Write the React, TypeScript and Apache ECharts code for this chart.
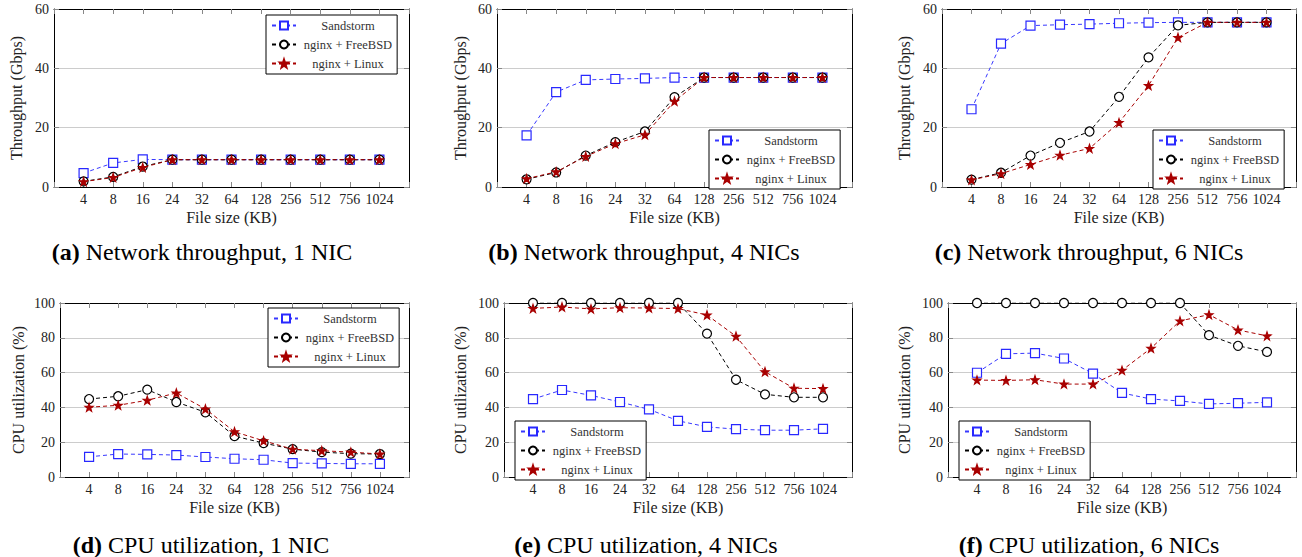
import React, { useEffect, useRef } from 'react';
import * as echarts from 'echarts';

const categories = ['4', '8', '16', '24', '32', '64', '128', '256', '512', '756', '1024'];
const seriesNames = ['Sandstorm', 'nginx + FreeBSD', 'nginx + Linux'];

// (a) Network throughput, 1 NIC
const tput1Sandstorm = [4.7, 8.1, 9.3, 9.2, 9.2, 9.2, 9.2, 9.2, 9.2, 9.2, 9.2];
const tput1FreeBSD = [1.9, 3.4, 6.9, 9.2, 9.2, 9.2, 9.2, 9.2, 9.2, 9.2, 9.2];
const tput1Linux = [1.8, 3.2, 6.6, 9.2, 9.2, 9.2, 9.2, 9.2, 9.2, 9.2, 9.2];
// (b) Network throughput, 4 NICs
const tput4Sandstorm = [17.4, 32.0, 36.1, 36.4, 36.6, 36.9, 36.9, 36.9, 36.9, 36.9, 36.9];
const tput4FreeBSD = [2.6, 4.9, 10.6, 15.1, 18.7, 30.3, 36.9, 36.9, 36.9, 36.9, 36.9];
const tput4Linux = [2.8, 5.1, 10.3, 14.6, 17.6, 28.9, 36.9, 36.9, 36.9, 36.9, 36.9];
// (c) Network throughput, 6 NICs
const tput6Sandstorm = [26.2, 48.3, 54.4, 54.7, 54.9, 55.2, 55.4, 55.5, 55.5, 55.5, 55.5];
const tput6FreeBSD = [2.5, 4.8, 10.6, 14.9, 18.7, 30.4, 43.7, 54.5, 55.5, 55.5, 55.5];
const tput6Linux = [2.4, 4.5, 7.6, 10.7, 13.0, 21.7, 34.2, 50.4, 55.5, 55.5, 55.5];
// (d) CPU utilization, 1 NIC
const cpu1Sandstorm = [11.6, 13.2, 13.0, 12.6, 11.5, 10.5, 9.9, 8.0, 7.8, 7.6, 7.6];
const cpu1FreeBSD = [44.8, 46.4, 50.2, 43.1, 37.2, 23.5, 19.5, 16.0, 14.3, 13.4, 13.2];
const cpu1Linux = [40.1, 41.2, 44.1, 48.3, 39.1, 26.0, 20.8, 16.0, 15.1, 14.3, 13.2];
// (e) CPU utilization, 4 NICs
const cpu4Sandstorm = [44.8, 50.0, 46.9, 43.1, 38.9, 32.3, 28.8, 27.5, 26.9, 26.9, 27.7];
const cpu4FreeBSD = [100, 100, 100, 100, 100, 100, 82.4, 55.9, 47.5, 45.8, 45.8];
const cpu4Linux = [96.9, 97.7, 96.6, 97.3, 97.1, 96.8, 93.1, 80.9, 60.5, 51.0, 50.8];
// (f) CPU utilization, 6 NICs
const cpu6Sandstorm = [59.9, 70.8, 71.2, 68.1, 59.4, 48.3, 44.8, 43.7, 42.0, 42.4, 42.9];
const cpu6FreeBSD = [100, 100, 100, 100, 100, 100, 100, 100, 81.5, 75.4, 71.9];
const cpu6Linux = [55.7, 55.5, 55.9, 53.4, 53.4, 61.3, 74.0, 89.7, 93.3, 84.5, 81.1];

const tputTicksMax = 60;
const cpuTicksMax = 100;

const panels = [
  { tag: '(a)', title: 'Network throughput, 1 NIC', yName: 'Throughput (Gbps)', yMax: tputTicksMax, series: [tput1Sandstorm, tput1FreeBSD, tput1Linux] },
  { tag: '(b)', title: 'Network throughput, 4 NICs', yName: 'Throughput (Gbps)', yMax: tputTicksMax, series: [tput4Sandstorm, tput4FreeBSD, tput4Linux] },
  { tag: '(c)', title: 'Network throughput, 6 NICs', yName: 'Throughput (Gbps)', yMax: tputTicksMax, series: [tput6Sandstorm, tput6FreeBSD, tput6Linux] },
  { tag: '(d)', title: 'CPU utilization, 1 NIC', yName: 'CPU utilization (%)', yMax: cpuTicksMax, series: [cpu1Sandstorm, cpu1FreeBSD, cpu1Linux] },
  { tag: '(e)', title: 'CPU utilization, 4 NICs', yName: 'CPU utilization (%)', yMax: cpuTicksMax, series: [cpu4Sandstorm, cpu4FreeBSD, cpu4Linux] },
  { tag: '(f)', title: 'CPU utilization, 6 NICs', yName: 'CPU utilization (%)', yMax: cpuTicksMax, series: [cpu6Sandstorm, cpu6FreeBSD, cpu6Linux] },
];

const layout = [
  { left: 54, top: 9, width: 355, height: 178, nameGap: 30, lgLeft: 266, lgTop: 15, cx: 202, cy: 252 },
  { left: 497, top: 9, width: 355, height: 178, nameGap: 29, lgLeft: 709, lgTop: 130, cx: 644, cy: 252 },
  { left: 942, top: 9, width: 354, height: 178, nameGap: 30, lgLeft: 1153, lgTop: 130, cx: 1089, cy: 252 },
  { left: 60, top: 303, width: 349, height: 174, nameGap: 34, lgLeft: 268, lgTop: 308, cx: 201, cy: 545 },
  { left: 504, top: 303, width: 348, height: 174, nameGap: 36, lgLeft: 515, lgTop: 421, cx: 646, cy: 545 },
  { left: 948, top: 303, width: 348, height: 174, nameGap: 36, lgLeft: 959, lgTop: 421, cx: 1089, cy: 545 },
];

const STAR = 'path://M0,-10 L2.35,-3.24 L9.51,-3.09 L3.8,1.24 L5.88,8.09 L0,4 L-5.88,8.09 L-3.8,1.24 L-9.51,-3.09 L-2.35,-3.24 Z';
const styles = [
  { symbol: 'rect', size: 9, fill: '#ffffff', stroke: '#2828ff', line: '#3838ff' },
  { symbol: 'circle', size: 9, fill: '#ffffff', stroke: '#000000', line: '#000000' },
  { symbol: STAR, size: 8, fill: '#a80000', stroke: '#a80000', line: '#a80000' },
];

const FONT = "'Liberation Serif', 'Times New Roman', serif";
const TEXT = '#222222';
const TICK = '#888888';

function buildOption() {
  const grid: any[] = [];
  const xAxis: any[] = [];
  const yAxis: any[] = [];
  const series: any[] = [];
  const legend: any[] = [];
  const graphic: any[] = [];

  panels.forEach((p, i) => {
    const L = layout[i];
    grid.push({ left: L.left, top: L.top, width: L.width, height: L.height, containLabel: false });
    const tick = { show: true, inside: true, length: 5, lineStyle: { color: TICK, width: 1 } };
    const frame = { show: true, onZero: false, lineStyle: { color: '#000', width: 1 } };
    xAxis.push({
      gridIndex: i, type: 'value', min: -1, max: 11, interval: 1, position: 'bottom',
      name: 'File size (KB)', nameLocation: 'middle', nameGap: 22,
      nameTextStyle: { fontFamily: FONT, fontSize: 16, color: TEXT },
      axisLine: frame, axisTick: tick,
      axisLabel: {
        margin: 5, fontFamily: FONT, fontSize: 14, color: TEXT,
        formatter: (v: number) => {
          const k = Math.round(v);
          return k >= 0 && k < categories.length ? categories[k] : '';
        },
      },
      splitLine: { show: false },
    });
    xAxis.push({
      gridIndex: i, type: 'value', min: -1, max: 11, interval: 1, position: 'top',
      axisLine: frame, axisTick: tick, axisLabel: { show: false }, splitLine: { show: false },
    });
    yAxis.push({
      gridIndex: i, type: 'value', min: 0, max: p.yMax, interval: 20, position: 'left',
      name: p.yName, nameLocation: 'middle', nameGap: L.nameGap, nameRotate: 90,
      nameTextStyle: { fontFamily: FONT, fontSize: 16, color: TEXT },
      axisLine: frame, axisTick: tick,
      axisLabel: { margin: 5, fontFamily: FONT, fontSize: 14, color: TEXT },
      splitLine: { show: true, showMinLine: false, showMaxLine: false, lineStyle: { color: '#cccccc', width: 1 } },
    });
    yAxis.push({
      gridIndex: i, type: 'value', min: 0, max: p.yMax, interval: 20, position: 'right',
      axisLine: frame, axisTick: tick, axisLabel: { show: false }, splitLine: { show: false },
    });
    p.series.forEach((vals, s) => {
      const st = styles[s];
      series.push({
        type: 'line', name: seriesNames[s], xAxisIndex: i * 2, yAxisIndex: i * 2,
        data: vals.map((v, k) => [k, v]),
        symbol: st.symbol, symbolSize: st.size, showAllSymbol: true,
        itemStyle: { color: st.fill, borderColor: st.stroke, borderWidth: 1.2 },
        lineStyle: { color: st.line, width: 1, type: [4, 3] },
        z: 2 + s,
        silent: true,
      });
    });
    legend.push({
      left: L.lgLeft, top: L.lgTop, orient: 'vertical', data: seriesNames,
      borderColor: '#000', borderWidth: 1, backgroundColor: '#fff',
      padding: [4, 5, 4, 5], itemGap: 6, itemWidth: 24, itemHeight: 10, itemTextGap: 5,
      selectedMode: false,
      formatter: (n: string) => `{t|${n}}`,
      textStyle: {
        fontFamily: FONT, fontSize: 12.5, color: '#333',
        rich: { t: { width: 94, align: 'center', fontFamily: FONT, fontSize: 12.5, color: '#333' } },
      },
    });
    graphic.push({
      type: 'text', x: L.cx, y: L.cy,
      style: {
        text: `{b|${p.tag}} ${p.title}`,
        fontFamily: FONT, fontSize: 24, fill: '#000',
        align: 'center', verticalAlign: 'middle',
        rich: { b: { fontFamily: FONT, fontSize: 24, fontWeight: 'bold', fill: '#000' } },
      },
    });
  });

  return {
    animation: false, backgroundColor: '#fff',
    textStyle: { fontFamily: FONT, color: TEXT },
    grid, xAxis, yAxis, series, legend, graphic,
  };
}

export default function App() {
  const ref = useRef<HTMLDivElement>(null);
  useEffect(() => {
    if (!ref.current) return;
    const chart = echarts.init(ref.current, null, { renderer: 'svg' });
    chart.setOption(buildOption() as any);
    return () => chart.dispose();
  }, []);
  return <div ref={ref} style={{ position: 'absolute', left: 0, top: 0, width: 1302, height: 557 }} />;
}
